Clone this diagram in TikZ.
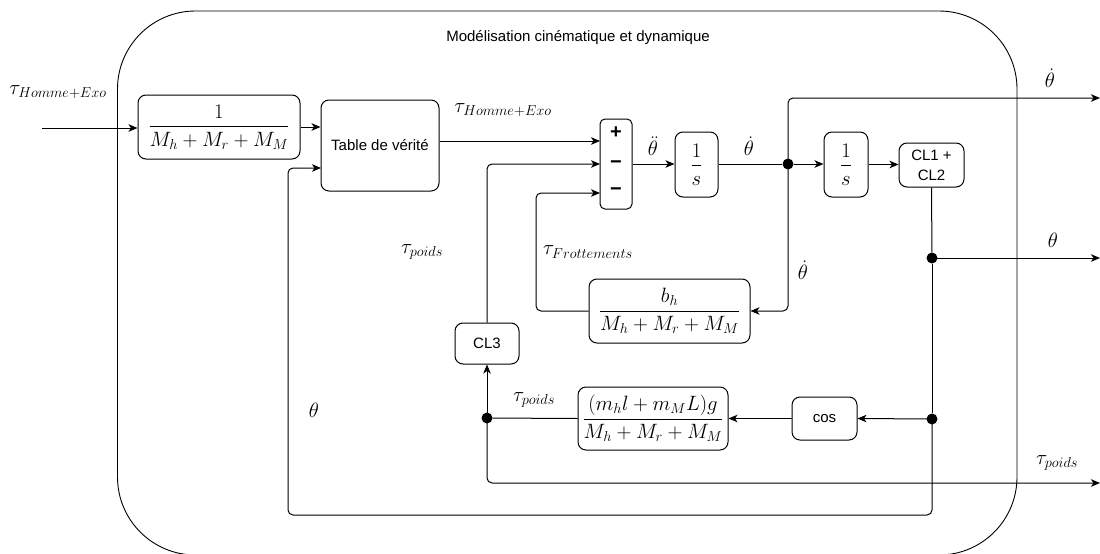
\documentclass[tikz,border=0pt]{standalone}
\usepackage{amsmath}
\usepackage{fontspec}
\newfontfamily\arial{Liberation Sans}
\usetikzlibrary{arrows.meta,calc}

\tikzset{
  blk/.style={draw=black, line width=1pt, rounded corners=8pt, inner sep=1pt, align=center},
  dot/.style={circle, fill=black, minimum size=11pt, inner sep=0pt},
  wire/.style={line width=1pt, draw=black, rounded corners=5pt},
  arr/.style={wire, -{Stealth[length=9pt,width=7.5pt,inset=2.5pt]}},
  mathlbl/.style={inner sep=0pt, font=\fontsize{19.5}{23}\selectfont},
  txt/.style={font=\arial\fontsize{15}{19}\selectfont},
  sgn/.style={inner sep=0pt, font=\arial\bfseries\fontsize{20}{22}\selectfont},
}

\begin{document}
\begin{tikzpicture}[x=1pt, y=-1pt]
\useasboundingbox (0,0) rectangle (1100,554);

% enclosing subsystem
\draw[line width=0.9pt, rounded corners=78pt] (117.5,11) rectangle (1017,555);
\node[txt] (title) at (578,38) {Modélisation cinématique et dynamique};

% blocks
\node[blk, mathlbl, minimum width=162pt, minimum height=64pt] (b1) at (219,127)
  {$\dfrac{1}{M_h+M_r+M_M}$};
\node[blk, txt, minimum width=118pt, minimum height=91pt] (tab) at (380,145.5) {Table de vérité};
\node[blk, rounded corners=5pt, minimum width=32pt, minimum height=90pt] (sum) at (616,164) {};
\node[sgn] (sp) at (616,133) {+};
\node[sgn] (sm1) at (616,165) {−};
\node[sgn] (sm2) at (616,192) {−};
\node[blk, mathlbl, minimum width=43pt, minimum height=65pt] (i1) at (696.5,164.5) {$\dfrac{1}{s}$};
\node[dot] (j1) at (788,164) {};
\node[blk, mathlbl, minimum width=44pt, minimum height=65pt] (i2) at (846,164.5) {$\dfrac{1}{s}$};
\node[blk, txt, minimum width=65pt, minimum height=44pt, font=\arial\fontsize{15}{20}\selectfont] (cl12) at (931.5,165) {CL1 +\\CL2};
\node[dot] (jth) at (932,258) {};
\node[dot] (jcos) at (932,419) {};
\node[blk, txt, minimum width=65pt, minimum height=43pt] (cos) at (824.5,418.5) {cos};
\node[blk, mathlbl, minimum width=150pt, minimum height=63pt] (grav) at (653,418.5)
  {$\dfrac{(m_h l+m_M L)g}{M_h+M_r+M_M}$};
\node[dot] (jp) at (487,418) {};
\node[blk, txt, minimum width=64pt, minimum height=41pt] (cl3) at (487,343.5) {CL3};
\node[blk, mathlbl, minimum width=161pt, minimum height=64pt] (fr) at (669.5,311)
  {$\dfrac{b_h}{M_h+M_r+M_M}$};

% connector end points
\coordinate (in) at (42,128);
\coordinate (s1) at (600,141);
\coordinate (s2) at (600,164);
\coordinate (s3) at (600,193);
\coordinate (fk) at (536,311);
\coordinate (o1) at (1100,98);
\coordinate (o2) at (1100,258);
\coordinate (o3) at (1100,483);
\coordinate (fb) at (288,515);
\coordinate (t2) at (321,168);

% forward path
\draw[arr] (in) -- (in -| b1.west);
\draw[arr] (b1.east) -- (b1.east -| tab.west);
\draw[arr] (tab.east |- s1) -- (s1);
\draw[arr] (sum.east) -- (sum.east -| i1.west);
\draw[wire] (i1.east |- j1) -- (j1);
\draw[arr] (j1) -- (j1 -| i2.west);
\draw[arr] (i2.east) -- (i2.east -| cl12.west);
\draw[arr] (j1.center) |- (o1);
\draw[arr] (j1.center) |- (fr.east);
\draw[wire] (cl12.south) -- (jth);
\draw[arr] (jth.center) -- (o2);
\draw[wire] (jth) -- (jcos);
\draw[arr] (jcos.center) -- (cos.east);
\draw[arr] (cos.west) -- (grav.east);
\draw[wire] (grav.west) -- (jp);
\draw[arr] (jp.center) -- (cl3.south);
\draw[arr] (jp.center) |- (o3);

% feedback paths
\draw[arr] (cl3.north) |- (s2);
\draw[arr] (fr.west) -- (fk) |- (s3);
\draw[arr] (jcos.center) |- (fb) |- (t2);

% signal labels
\node[mathlbl] (l1) at (58,92) {$\tau_{Homme+Exo}$};
\node[mathlbl] (l2) at (503,110) {$\tau_{Homme+Exo}$};
\node[mathlbl] (l3) at (653,146) {$\ddot{\theta}$};
\node[mathlbl] (l4) at (749,146) {$\dot{\theta}$};
\node[mathlbl] (l5) at (1050,78) {$\dot{\theta}$};
\node[mathlbl] (l6) at (1053,240) {$\theta$};
\node[mathlbl] (l7) at (803,270) {$\dot{\theta}$};
\node[mathlbl] (l8) at (588,252) {$\tau_{Frottements}$};
\node[mathlbl] (l9) at (422,252) {$\tau_{poids}$};
\node[mathlbl] (l10) at (534,400) {$\tau_{poids}$};
\node[mathlbl] (l11) at (1057,463) {$\tau_{poids}$};
\node[mathlbl] (l12) at (314,410) {$\theta$};
\end{tikzpicture}
\end{document}
